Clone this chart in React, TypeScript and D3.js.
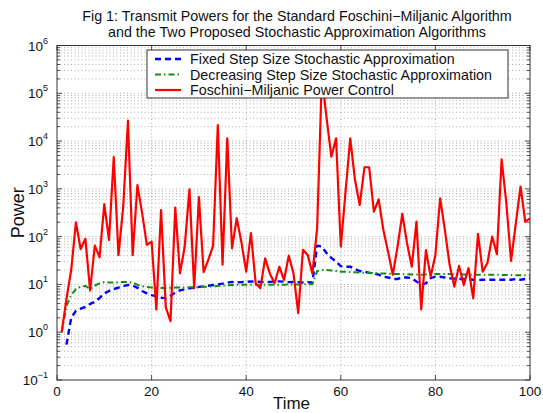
import React from "react";
import * as d3 from "d3";

const times: number[] = d3.range(1, 101);

const foschiniMiljanic: number[] = [
  1, 5, 20, 200, 55, 90, 7.5, 65, 37, 480,
  85, 4600, 41, 425, 26700, 41, 1200, 310, 67, 79,
  3.0, 360, 3.3, 1.7, 405, 17, 62, 980, 8.3, 670,
  18, 33, 64, 21700, 26, 11400, 57, 243, 75, 18.5,
  118, 10.6, 8.3, 35, 17, 10.6, 23.5, 12.4, 40, 17,
  2.5, 53, 41.5, 17, 150, 230000, 30000, 4700, 11400, 62,
  870, 11400, 1540, 460, 2830, 2830, 333, 605, 138, 48,
  16, 62, 300, 73, 23.5, 206, 3, 52, 14.6, 41.5,
  635, 138, 26, 9, 24.4, 9.7, 22, 5.1, 114, 18.5,
  28, 100, 43, 4160, 500, 31, 190, 1120, 205, 240,
];

const fixedStep: (number | null)[] = [
  null, 0.55, 2.0, 2.8, 3.1, 3.4, 3.9, 4.3, 5.2, 6.5,
  7.3, 8.0, 8.6, 9.2, 9.8, 9.5, 8.5, 7.3, 6.5, 6.0,
  5.6, 5.3, 5.1, 5.8, 6.8, 7.5, 7.9, 8.3, 8.6, 8.9,
  9.1, 9.4, 9.7, 10, 10.4, 10.9, 11.3, 11.0, 11.2, 11.3,
  11.5, 11.4, 11.3, 11.2, 11.3, 11.5, 11.6, 11.4, 11.2, 11.3,
  11.2, 11.0, 11.1, 11.0, 65, 62, 45, 36, 30, 24,
  23.5, 23.5, 21, 19, 18.5, 17.5, 17, 16, 14.5, 14,
  13, 13, 14, 14, 13.5, 11.5, 10, 10.5, 13.5, 14.5,
  14.5, 14, 13.5, 13.2, 13, 13, 12.8, 12.5, 12.3, 12.5,
  12.5, 12.5, 12.5, 12.5, 12.5, 12.5, 13, 12.5, 13, 13.5,
];

const decreasingStep: number[] = [
  1, 3.5, 6, 8, 9, 9.3, 8, 9.5, 10.5, 11.2,
  11, 11, 11.2, 11.3, 11.2, 11, 9.8, 9.2, 8.8, 8.6,
  8.5, 8.4, 8.4, 8.5, 8.6, 8.6, 8.6, 8.7, 8.7, 8.8,
  8.9, 9.0, 9.1, 9.3, 9.5, 9.6, 9.7, 9.8, 9.8, 9.8,
  9.8, 9.8, 9.8, 9.8, 9.9, 9.9, 9.9, 9.9, 10, 10,
  10, 10, 10.1, 10.1, 19, 20, 20, 19.5, 19, 18.5,
  18.4, 18.2, 18, 17.8, 17.6, 17.4, 17.2, 17, 16.9, 16.8,
  16.6, 16.5, 16.4, 16.3, 16.2, 16.1, 16, 16.2, 16.4, 16.6,
  16.6, 16.5, 16.5, 16.4, 16.3, 16.2, 16.1, 16, 16, 16,
  16, 15.9, 15.9, 15.8, 15.8, 15.7, 15.6, 15.6, 15.5, 15.5,
];

const xTicks: number[] = [0, 20, 40, 60, 80, 100];
const yTickExponents: number[] = [-1, 0, 1, 2, 3, 4, 5, 6];
const titleLines: string[] = [
  "Fig 1: Transmit Powers for the Standard Foschini\u2212Miljanic Algorithm",
  "and the Two Proposed Stochastic Approximation Algorithms",
];
const legendLabels: string[] = [
  "Fixed Step Size Stochastic Approximation",
  "Decreasing Step Size Stochastic Approximation",
  "Foschini\u2212Miljanic Power Control",
];

const W = 543;
const H = 413;
const L = 57, R = 530, T = 45.5, B = 380;
const FONT = "'Liberation Sans', Arial, Helvetica, sans-serif";

export default function App() {
  const x = d3.scaleLinear().domain([0, 100]).range([L, R]);
  const y = d3.scaleLog().domain([0.1, 1e6]).range([B, T]);

  const mk = (vals: (number | null)[]) =>
    d3
      .line<number>()
      .defined((_, i) => vals[i] != null)
      .x((t) => x(t))
      .y((_, i) => y(vals[i] as number))(times) as string;

  const minorY: number[] = [];
  for (let k = -1; k < 6; k++) for (let m = 2; m <= 9; m++) minorY.push(m * Math.pow(10, k));
  const majorY = yTickExponents.map((e) => Math.pow(10, e));

  const series = [
    { vals: fixedStep, color: "#0000ff", dash: "6,4", width: 2.4 },
    { vals: decreasingStep, color: "#109010", dash: "6,3,1.5,3", width: 2 },
    { vals: foschiniMiljanic, color: "#ff0000", dash: undefined, width: 2.2 },
  ];

  const legX = 147, legY = 50, legW = 361, legH = 48;

  return (
    <svg
      width={W}
      height={H}
      style={{ position: "fixed", left: 0, top: 0, background: "#fff" }}
      fontFamily={FONT}
    >
      <rect x={0} y={0} width={W} height={H} fill="#fff" />
      <g stroke="#9a9a9a" strokeWidth={0.8} strokeDasharray="1,2.5" fill="none">
        {[...minorY, ...majorY.slice(1, -1)].map((v, i) => (
          <line key={"h" + i} x1={L} x2={R} y1={y(v)} y2={y(v)} />
        ))}
        {xTicks.slice(1, -1).map((v, i) => (
          <line key={"v" + i} x1={x(v)} x2={x(v)} y1={T} y2={B} />
        ))}
      </g>
      <g stroke="#222" strokeWidth={0.8}>
        {xTicks.map((v, i) => (
          <g key={"xt" + i}>
            <line x1={x(v)} x2={x(v)} y1={B} y2={B - 5} />
            <line x1={x(v)} x2={x(v)} y1={T} y2={T + 5} />
          </g>
        ))}
        {majorY.map((v, i) => (
          <g key={"yt" + i}>
            <line x1={L} x2={L + 5} y1={y(v)} y2={y(v)} />
            <line x1={R} x2={R - 5} y1={y(v)} y2={y(v)} />
          </g>
        ))}
        {minorY.map((v, i) => (
          <g key={"ym" + i}>
            <line x1={L} x2={L + 3} y1={y(v)} y2={y(v)} />
            <line x1={R} x2={R - 3} y1={y(v)} y2={y(v)} />
          </g>
        ))}
      </g>
      <defs>
        <clipPath id="plotclip">
          <rect x={L} y={T} width={R - L} height={B - T} />
        </clipPath>
      </defs>
      <g clipPath="url(#plotclip)" fill="none" strokeLinejoin="round">
        {series.map((s, i) => (
          <path key={i} d={mk(s.vals)} stroke={s.color} strokeWidth={s.width} strokeDasharray={s.dash} />
        ))}
      </g>
      <rect x={L} y={T} width={R - L} height={B - T} fill="none" stroke="#333" strokeWidth={1} />
      <g>
        <rect x={legX} y={legY} width={legW} height={legH} fill="#fff" stroke="#333" strokeWidth={1} />
        {legendLabels.map((lab, i) => {
          const s = series[i];
          const cy = legY + 9 + i * 15.5;
          return (
            <g key={"lg" + i}>
              <line
                x1={legX + 8}
                x2={legX + 34}
                y1={cy}
                y2={cy}
                stroke={s.color}
                strokeWidth={s.width}
                strokeDasharray={s.dash}
              />
              <text x={legX + 43} y={cy + 5} fontSize={14.3} fill="#111">
                {lab}
              </text>
            </g>
          );
        })}
      </g>
      <g fontSize={13.5} fill="#111">
        {xTicks.map((v, i) => (
          <text key={"xl" + i} x={x(v)} y={396} textAnchor="middle">
            {v}
          </text>
        ))}
        {yTickExponents.map((e, i) => (
          <text key={"yl" + i} x={48} y={y(Math.pow(10, e)) + 5} textAnchor="end">
            10
            <tspan fontSize={9} dy={-7}>
              {e < 0 ? "\u2212" + Math.abs(e) : String(e)}
            </tspan>
          </text>
        ))}
      </g>
      <text x={(L + R) / 2 - 2} y={409} textAnchor="middle" fontSize={17} fill="#111">
        Time
      </text>
      <text
        transform={`translate(24, ${(T + B) / 2}) rotate(-90)`}
        textAnchor="middle"
        fontSize={18}
        fill="#111"
      >
        Power
      </text>
      <g fontSize={14.3} fill="#111" textAnchor="middle">
        {titleLines.map((t, i) => (
          <text key={"t" + i} x={297} y={21 + i * 16}>
            {t}
          </text>
        ))}
      </g>
    </svg>
  );
}
